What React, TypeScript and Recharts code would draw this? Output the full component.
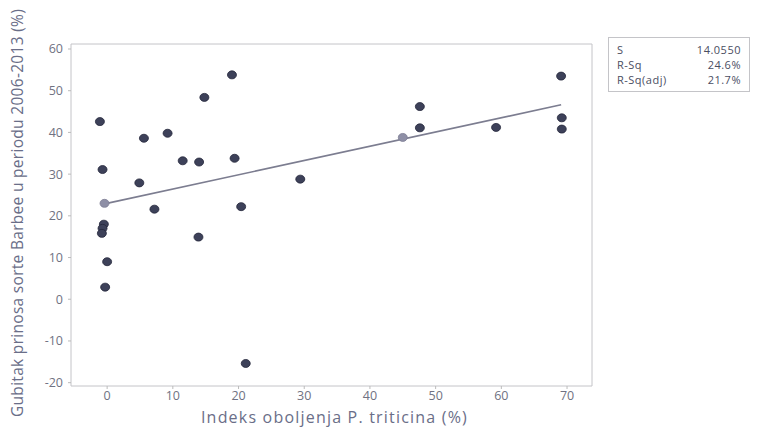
import React from 'react';
import { ScatterChart, Scatter, XAxis, YAxis, ReferenceLine, ReferenceArea } from 'recharts';

const darkX = [-1.1, -0.7, -0.5, -0.7, -0.8, 0.0, -0.3, 4.9, 5.6, 7.2, 9.2, 11.5, 13.9, 14.0, 14.8, 19.0, 19.4, 20.4, 21.1, 29.4, 47.6, 47.6, 59.2, 69.1, 69.2, 69.2];
const darkY = [42.6, 31.1, 18.0, 17.0, 15.8, 9.0, 2.9, 27.9, 38.6, 21.6, 39.8, 33.2, 14.9, 32.9, 48.4, 53.8, 33.8, 22.2, -15.4, 28.8, 46.2, 41.1, 41.2, 53.5, 43.5, 40.8];
const lightX = [-0.4, 45.0];
const lightY = [23.0, 38.8];
const fitIntercept = 23.0;
const fitSlope = 0.342;
const fitRange = [-0.4, 69.1];
const xTicks = [0, 10, 20, 30, 40, 50, 60, 70];
const yTicks = [-20, -10, 0, 10, 20, 30, 40, 50, 60];
const statLabels = ['S', 'R-Sq', 'R-Sq(adj)'];
const statValues = ['14.0550', '24.6%', '21.7%'];

const dark = darkX.map((x, i) => ({ x, y: darkY[i] }));
const light = lightX.map((x, i) => ({ x, y: lightY[i] }));
const fitSeg = fitRange.map((x) => ({ x, y: fitIntercept + fitSlope * x }));

const XD: [number, number] = [-5.5, 73.8];
const YD: [number, number] = [-20.8, 61.2];

const font = '"Open Sans", "Noto Sans", sans-serif';

const Dot = (props: any) => {
  const { cx, cy, fill } = props;
  if (cx == null || cy == null) return null;
  return <ellipse cx={cx} cy={cy} rx={4.5} ry={4} fill={fill} stroke="#23263a" strokeWidth={0.8} />;
};
const LightDot = (props: any) => {
  const { cx, cy } = props;
  if (cx == null || cy == null) return null;
  return <ellipse cx={cx} cy={cy} rx={4.5} ry={4} fill="#8e8fa6" stroke="#7d7e94" strokeWidth={0.8} />;
};

export default function App() {
  return (
    <div style={{ position: 'absolute', left: 0, top: 0, width: 757, height: 429, background: '#fff', fontFamily: font }}>
      <ScatterChart width={757} height={429} margin={{ top: 44, right: 165, bottom: 0, left: 0 }}>
        <XAxis
          type="number"
          dataKey="x"
          domain={XD}
          ticks={xTicks}
          allowDataOverflow
          height={43}
          axisLine={false}
          tickLine={{ stroke: '#bbb' }}
          tickSize={3}
          tick={{ fill: '#707282', fontSize: 12.5, fontFamily: font }}
          label={{ value: 'Indeks oboljenja P. triticina (%)', position: 'insideBottom', offset: 6, dx: 3, fill: '#6a6e88', fontSize: 16, fontFamily: font, style: { letterSpacing: '1.2px' } }}
        />
        <YAxis
          type="number"
          dataKey="y"
          domain={YD}
          ticks={yTicks}
          allowDataOverflow
          width={71}
          axisLine={false}
          tickLine={{ stroke: '#bbb' }}
          tickSize={3}
          tickMargin={5}
          tick={{ fill: '#707282', fontSize: 12.5, fontFamily: font }}
          label={{ value: 'Gubitak prinosa sorte Barbee u periodu 2006-2013 (%)', angle: -90, position: 'insideLeft', offset: 17, dy: -2, fill: '#6a6e88', fontSize: 15.5, fontFamily: font, style: { textAnchor: 'middle', letterSpacing: '0.3px' } }}
        />
        <ReferenceArea x1={XD[0]} x2={XD[1]} y1={YD[0]} y2={YD[1]} fill="none" stroke="#c4c4c8" strokeWidth={1} ifOverflow="visible" />
        <ReferenceLine segment={fitSeg} stroke="#7c7d90" strokeWidth={1.7} ifOverflow="visible" />
        <Scatter data={light} fill="#8e8fa6" shape={<LightDot />} isAnimationActive={false} />
        <Scatter data={dark} fill="#3d4159" shape={<Dot />} isAnimationActive={false} />
      </ScatterChart>
      <div style={{ position: 'absolute', left: 608, top: 37, width: 142, height: 55, border: '1px solid #c4c4c8', boxSizing: 'border-box', padding: '4px 8px 0 8px', fontSize: 11, color: '#4a4e62', lineHeight: '15px', letterSpacing: '0.5px' }}>
        {statLabels.map((l, i) => (
          <div key={l} style={{ display: 'flex', justifyContent: 'space-between', height: 15 }}>
            <span>{l}</span>
            <span>{statValues[i]}</span>
          </div>
        ))}
      </div>
    </div>
  );
}
